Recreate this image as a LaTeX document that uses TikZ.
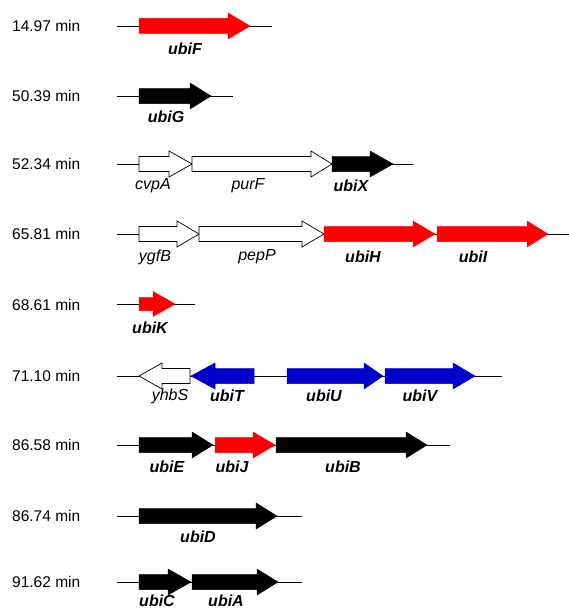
\documentclass[tikz,border=0pt]{standalone}
\usepackage{fontspec}
\setmainfont{Liberation Sans}
\usepackage{tikz}
\definecolor{genered}{RGB}{255,0,0}
\definecolor{geneblue}{RGB}{0,0,204}
\tikzset{
  backbone/.style={draw=black,line width=0.9pt},
  blackgene/.style={fill=black,draw=black,line width=0.5pt},
  redgene/.style={fill=genered,draw=genered,line width=0.5pt},
  bluegene/.style={fill=geneblue,draw=geneblue,line width=0.5pt},
  othergene/.style={fill=white,draw=black,line width=0.7pt},
  minlabel/.style={font=\fontsize{15.5}{18}\selectfont,anchor=west,inner sep=0pt},
  ubilabel/.style={font=\fontsize{16}{19}\selectfont\bfseries\itshape,inner sep=0pt},
  otherlabel/.style={font=\fontsize{16}{19}\selectfont\itshape,inner sep=0pt}
}
% gene arrow: [style]{start}{head base}{tip}{y}
\newcommand{\genearrow}[5][]{%
  \draw[#1] (#2,#5-7.5) -- (#3,#5-7.5) -- (#3,#5-13) -- (#4,#5)
    -- (#3,#5+13) -- (#3,#5+7.5) -- (#2,#5+7.5) -- cycle;}
\newcommand{\smallgenearrow}[5][]{%
  \draw[#1] (#2,#5-6.5) -- (#3,#5-6.5) -- (#3,#5-12.5) -- (#4,#5)
    -- (#3,#5+12.5) -- (#3,#5+6.5) -- (#2,#5+6.5) -- cycle;}

\begin{document}
\begin{tikzpicture}[x=1pt,y=-1pt]
            \useasboundingbox (0,0) rectangle (569,610);
            % 14.97 min
            \node[minlabel] (t1) at (12,26){14.97 min};
            \coordinate (r1a) at (117,26);
            \coordinate (r1b) at (272,26);
            \draw[backbone] (r1a) -- (r1b);
            \genearrow[redgene]{139}{228}{250}{26}
            \node[ubilabel] (ubiF) at (185,49){ubiF};
            % 50.39 min
            \node[minlabel] (t2) at (12,96){50.39 min};
            \coordinate (r2a) at (117,96);
            \coordinate (r2b) at (233,96);
            \draw[backbone] (r2a) -- (r2b);
            \genearrow[blackgene]{139}{190}{211}{96}
            \node[ubilabel] (ubiG) at (166,117){ubiG};
            % 52.34 min
            \node[minlabel] (t3) at (12,164){52.34 min};
            \coordinate (r3a) at (117,164);
            \coordinate (r3b) at (413,164);
            \draw[backbone] (r3a) -- (r3b);
            \genearrow[othergene]{139}{169}{192}{164}
            \genearrow[othergene]{192}{311}{332}{164}
            \genearrow[blackgene]{332}{370}{393}{164}
            \node[otherlabel] (cvpA) at (153,186){cvpA};
            \node[otherlabel] (purF) at (248,186){purF};
            \node[ubilabel] (ubiX) at (351,186){ubiX};
            % 65.81 min
            \node[minlabel] (t4) at (12,234){65.81 min};
            \coordinate (r4a) at (117,234);
            \coordinate (r4b) at (569,234);
            \draw[backbone] (r4a) -- (r4b);
            \genearrow[othergene]{139}{177}{199}{234}
            \genearrow[othergene]{199}{302}{324}{234}
            \genearrow[redgene]{324}{413}{435}{234}
            \genearrow[redgene]{437}{527}{548}{234}
            \node[otherlabel] (ygfB) at (155,257){ygfB};
            \node[otherlabel] (pepP) at (257,257){pepP};
            \node[ubilabel] (ubiH) at (363,257){ubiH};
            \node[ubilabel] (ubiI) at (473,257){ubiI};
            % 68.61 min
            \node[minlabel] (t5) at (12,305){68.61 min};
            \coordinate (r5a) at (117,304);
            \coordinate (r5b) at (195,304);
            \draw[backbone] (r5a) -- (r5b);
            \smallgenearrow[redgene]{139}{153}{175}{304}
            \node[ubilabel] (ubiK) at (150,328){ubiK};
            % 71.10 min
            \node[minlabel] (t6) at (12,376){71.10 min};
            \coordinate (r6a) at (117,376);
            \coordinate (r6b) at (502,376);
            \draw[backbone] (r6a) -- (r6b);
            \genearrow[othergene]{190}{162}{139}{376}
            \genearrow[bluegene]{254}{215}{191}{376}
            \genearrow[bluegene]{287}{364}{383}{376}
            \genearrow[bluegene]{385}{453}{475}{376}
            \node[otherlabel] (yhbS) at (170,396){yhbS};
            \node[ubilabel] (ubiT) at (227,396){ubiT};
            \node[ubilabel] (ubiU) at (324,396){ubiU};
            \node[ubilabel] (ubiV) at (420,396){ubiV};
            % 86.58 min
            \node[minlabel] (t7) at (12,445){86.58 min};
            \coordinate (r7a) at (117,445);
            \coordinate (r7b) at (450,445);
            \draw[backbone] (r7a) -- (r7b);
            \genearrow[blackgene]{139}{192}{213}{445}
            \genearrow[redgene]{215}{253}{275}{445}
            \genearrow[blackgene]{276}{406}{427}{445}
            \node[ubilabel] (ubiE) at (167,467){ubiE};
            \node[ubilabel] (ubiJ) at (232,467){ubiJ};
            \node[ubilabel] (ubiB) at (343,467){ubiB};
            % 86.74 min
            \node[minlabel] (t8) at (12,516){86.74 min};
            \coordinate (r8a) at (117,516);
            \coordinate (r8b) at (302,516);
            \draw[backbone] (r8a) -- (r8b);
            \genearrow[blackgene]{139}{256}{277}{516}
            \node[ubilabel] (ubiD) at (198,537){ubiD};
            % 91.62 min
            \node[minlabel] (t9) at (12,582){91.62 min};
            \coordinate (r9a) at (117,582);
            \coordinate (r9b) at (302,582);
            \draw[backbone] (r9a) -- (r9b);
            \genearrow[blackgene]{139}{168}{191}{582}
            \genearrow[blackgene]{192}{257}{278}{582}
            \node[ubilabel] (ubiC) at (157,601){ubiC};
            \node[ubilabel] (ubiA) at (226,601){ubiA};
        \end{tikzpicture}
\end{document}
